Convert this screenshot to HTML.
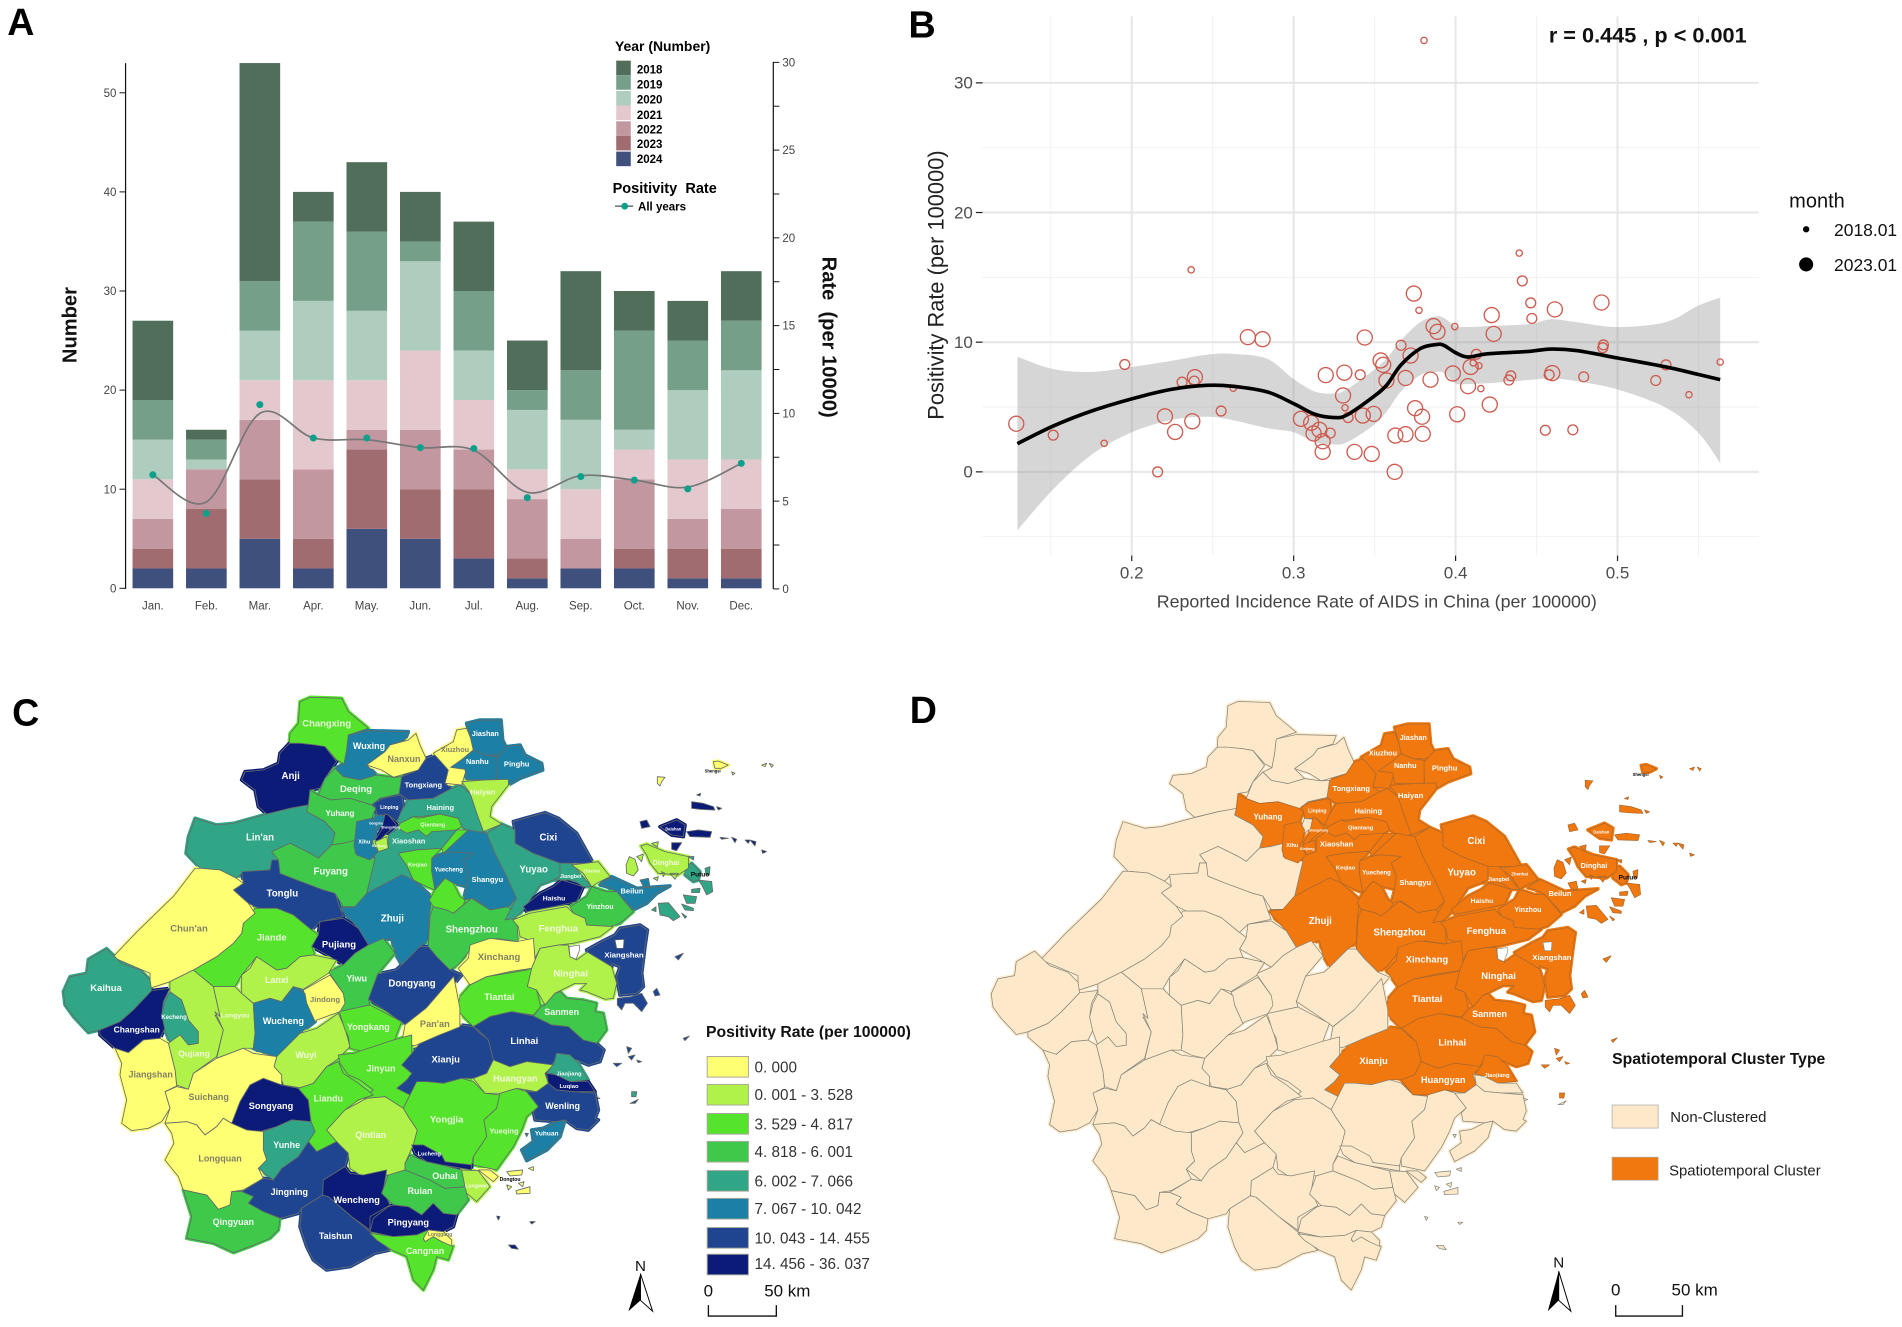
<!DOCTYPE html>
<html lang="en">
<head>
<meta charset="utf-8">
<title>Positivity rate figure</title>
<style>
html,body{margin:0;padding:0;background:#fff;width:1902px;height:1327px;overflow:hidden}
svg{display:block}
text{font-family:"Liberation Sans",sans-serif}
</style>
</head>
<body>
<svg id="figure" xmlns="http://www.w3.org/2000/svg" width="1902" height="1327" viewBox="0 0 1568 1094">
  <defs>
    <clipPath id="legendTitleClip"><rect x="570" y="835" width="200" height="22"/></clipPath>
  </defs>
  <rect x="0" y="0" width="1568" height="1094" fill="#fff"/>

  <text x="6" y="29" font-size="31" font-weight="bold">A</text>
  <text x="749" y="31" font-size="31" font-weight="bold">B</text>
  <text x="10" y="598" font-size="31" font-weight="bold">C</text>
  <text x="750" y="596" font-size="31" font-weight="bold">D</text>

  <g id="panelA"></g>
  <text transform="translate(63,268) rotate(-90)" text-anchor="middle" font-size="16.6" font-weight="bold" fill="#111">Number</text>
  <text transform="translate(678,278) rotate(90)" text-anchor="middle" font-size="16.6" font-weight="bold" fill="#111" xml:space="preserve">Rate  (per 10000)</text>
  <g>
    <text x="507" y="42" font-size="11.5" font-weight="bold">Year (Number)</text>
    <rect x="508" y="50" width="12" height="12" fill="#506e5a"/>
    <rect x="508" y="62" width="12" height="12" fill="#759f88"/>
    <rect x="508" y="75" width="12" height="12" fill="#aecdbe"/>
    <rect x="508" y="87" width="12" height="12" fill="#e3c9ce"/>
    <rect x="508" y="100" width="12" height="12" fill="#c297a0"/>
    <rect x="508" y="112" width="12" height="12" fill="#a06c70"/>
    <rect x="508" y="125" width="12" height="12" fill="#40507d"/>
    <text x="525" y="60.5" font-size="9.5" font-weight="bold">2018</text>
    <text x="525" y="73" font-size="9.5" font-weight="bold">2019</text>
    <text x="525" y="85.5" font-size="9.5" font-weight="bold">2020</text>
    <text x="525" y="98" font-size="9.5" font-weight="bold">2021</text>
    <text x="525" y="110" font-size="9.5" font-weight="bold">2022</text>
    <text x="525" y="122" font-size="9.5" font-weight="bold">2023</text>
    <text x="525" y="134.5" font-size="9.5" font-weight="bold">2024</text>
    <text x="505" y="159" font-size="12" font-weight="bold" xml:space="preserve">Positivity  Rate</text>
    <line x1="507" y1="170" x2="522" y2="170" stroke="#777" stroke-width="1.3"/>
    <circle cx="515" cy="170" r="2.8" fill="#0fa08c"/>
    <text x="526" y="173.5" font-size="9.5" font-weight="bold">All years</text>
  </g>

  <g id="panelB"></g>
  <text x="1440" y="35" text-anchor="end" font-size="17.9" font-weight="bold" fill="#111">r = 0.445 , p &lt; 0.001</text>
  <text transform="translate(778,235) rotate(-90)" text-anchor="middle" font-size="18" fill="#222">Positivity Rate (per 100000)</text>
  <text x="1135" y="501" text-anchor="middle" font-size="14.7" fill="#444">Reported Incidence Rate of AIDS in China (per 100000)</text>
  <g>
    <text x="1475" y="171" font-size="16.5" fill="#111">month</text>
    <circle cx="1489" cy="189" r="2.6" fill="#000"/>
    <circle cx="1489" cy="218" r="5.8" fill="#000"/>
    <text x="1512" y="194.5" font-size="14.4" fill="#111">2018.01</text>
    <text x="1512" y="223.5" font-size="14.4" fill="#111">2023.01</text>
  </g>

  <g id="mapC"></g>
  <g>
    <text x="582" y="855" font-size="13" font-weight="bold" fill="#111" clip-path="url(#legendTitleClip)">Positivity Rate (per 100000)</text>
    <rect x="583" y="871" width="34" height="17" fill="#ffff73" stroke="#a8a89a" stroke-width=".8"/>
    <rect x="583" y="894" width="34" height="17" fill="#b0f24a" stroke="#a8a89a" stroke-width=".8"/>
    <rect x="583" y="918" width="34" height="17" fill="#55e32b" stroke="#a8a89a" stroke-width=".8"/>
    <rect x="583" y="941" width="34" height="17" fill="#3fc94a" stroke="#a8a89a" stroke-width=".8"/>
    <rect x="583" y="965" width="34" height="17" fill="#31a687" stroke="#a8a89a" stroke-width=".8"/>
    <rect x="583" y="988" width="34" height="17" fill="#1c7fa6" stroke="#a8a89a" stroke-width=".8"/>
    <rect x="583" y="1012" width="34" height="17" fill="#1f4490" stroke="#a8a89a" stroke-width=".8"/>
    <rect x="583" y="1034" width="34" height="17" fill="#0c1a78" stroke="#a8a89a" stroke-width=".8"/>
    <text x="622" y="884" font-size="12.6" fill="#333">0. 000</text>
    <text x="622" y="907" font-size="12.6" fill="#333">0. 001 - 3. 528</text>
    <text x="622" y="931" font-size="12.6" fill="#333">3. 529 - 4. 817</text>
    <text x="622" y="954" font-size="12.6" fill="#333">4. 818 - 6. 001</text>
    <text x="622" y="978" font-size="12.6" fill="#333">6. 002 - 7. 066</text>
    <text x="622" y="1001" font-size="12.6" fill="#333">7. 067 - 10. 042</text>
    <text x="622" y="1025" font-size="12.6" fill="#333">10. 043 - 14. 455</text>
    <text x="622" y="1046" font-size="12.6" fill="#333">14. 456 - 36. 037</text>
  </g>
  <g>
    <text x="528" y="1048" text-anchor="middle" font-size="12.5" fill="#111">N</text>
    <polygon points="528,1050 518,1081 528,1072" fill="#000"/>
    <polygon points="528,1050 538,1081 528,1072" fill="#fff" stroke="#000" stroke-width=".8"/>
  </g>
  <g>
    <text x="584" y="1069" text-anchor="middle" font-size="14" fill="#111">0</text>
    <text x="630" y="1069" font-size="14" fill="#111">50 km</text>
    <polyline points="584,1076 584,1085 640,1085 640,1076" fill="none" stroke="#111" stroke-width="1.1"/>
  </g>

  <g id="mapD"></g>
  <g>
    <text x="1329" y="877" font-size="13" font-weight="bold" fill="#111">Spatiotemporal Cluster Type</text>
    <rect x="1329" y="911" width="38" height="19" fill="#fde9c9" stroke="#aaa" stroke-width=".6"/>
    <rect x="1329" y="954" width="38" height="19" fill="#f0780f" stroke="#aaa" stroke-width=".6"/>
    <text x="1377" y="925" font-size="12.3" fill="#222">Non-Clustered</text>
    <text x="1376" y="969" font-size="12.3" fill="#222">Spatiotemporal Cluster</text>
  </g>
  <g>
    <text x="1285" y="1045" text-anchor="middle" font-size="12.5" fill="#111">N</text>
    <polygon points="1285,1048 1276,1081 1285,1072" fill="#000"/>
    <polygon points="1285,1048 1295,1081 1285,1072" fill="#fff" stroke="#000" stroke-width=".8"/>
  </g>
  <g>
    <text x="1332" y="1068" text-anchor="middle" font-size="14" fill="#111">0</text>
    <text x="1378" y="1068" font-size="14" fill="#111">50 km</text>
    <polyline points="1332,1076 1332,1085 1387,1085 1387,1076" fill="none" stroke="#111" stroke-width="1.1"/>
  </g>
</svg>

<script>
/* ---------- Panel A data ---------- */
const months = ['Jan.','Feb.','Mar.','Apr.','May.','Jun.','Jul.','Aug.','Sep.','Oct.','Nov.','Dec.'];
const count2024 = [2,2,5,2,6,5,3,1,2,2,1,1];
const count2023 = [2,6,6,3,8,5,7,2,0,2,3,3];
const count2022 = [3,4,6,7,2,6,4,6,3,7,3,4];
const count2021 = [4,0,4,9,5,8,5,3,5,3,6,5];
const count2020 = [4,1,5,8,7,9,5,6,7,2,7,9];
const count2019 = [4,2,5,8,8,2,6,2,5,10,5,5];
const count2018 = [8,1,22,3,7,5,7,5,10,4,4,5];
const positivityPoints = [6.5,4.3,10.5,8.6,8.6,8.05,8.0,5.2,6.4,6.2,5.7,7.15];
const positivitySmooth = [6.5,4.95,10.0,8.6,8.5,8.05,7.9,5.5,6.45,6.2,5.8,7.15];
const numberTicks = [0,10,20,30,40,50];
const rateTicks = [0,2.5,5,7.5,10,12.5,15,17.5,20,22.5,25,27.5,30];

/* ---------- Panel B data ---------- */
const incidence = [.1287,.1515,.183,.1957,.216,.2205,.2268,.2311,.2367,.2374,.239,.2386,.2552,.2627,.2717,.2808,.3045,.3108,.3123,.3159,.3226,.3179,.3179,.3198,.3313,.3305,.3317,.3336,.3376,.3411,.3427,.3439,.3482,.3494,.3537,.3553,.3573,.3624,.3628,.3663,.3691,.3691,.3722,.3742,.375,.3774,.3793,.3797,.3805,.3845,.3864,.3888,.3983,.3995,.401,.4077,.4093,.4109,.4128,.4144,.4156,.4211,.4223,.4235,.4329,.4341,.4393,.4412,.4464,.4471,.4554,.4578,.4597,.4613,.4724,.4791,.4901,.4913,.4909,.5236,.5299,.5441,.5634];
const positivity = [3.71,2.83,2.2,8.28,0,4.28,3.08,6.92,15.58,3.9,7.3,7.0,4.69,6.45,10.39,10.23,4.09,3.78,2.96,3.24,2.99,2.36,1.54,7.46,7.65,5.89,4.94,4.19,1.54,7.49,4.34,10.36,1.38,4.47,8.59,8.25,7.05,0,2.8,9.76,2.9,7.24,8.97,13.75,4.91,12.46,4.25,2.93,33.27,7.11,11.24,10.8,7.59,11.2,4.44,6.61,8.09,8.4,9.07,8.18,6.42,5.19,12.09,10.64,7.08,7.4,16.87,14.73,13.03,11.83,3.21,7.49,7.62,12.53,3.24,7.33,13.06,9.79,9.57,7.05,8.25,5.95,8.47];
const monthValue = [2023.01,2020.06,2018.01,2020.06,2020.06,2023.01,2023.01,2020.06,2018.01,2023.01,2023.01,2020.06,2020.06,2018.01,2023.01,2023.01,2023.01,2023.01,2023.01,2023.01,2020.06,2023.01,2023.01,2023.01,2023.01,2023.01,2018.01,2020.06,2023.01,2020.06,2023.01,2023.01,2023.01,2023.01,2023.01,2023.01,2023.01,2023.01,2023.01,2020.06,2023.01,2023.01,2023.01,2023.01,2023.01,2018.01,2023.01,2023.01,2018.01,2023.01,2023.01,2023.01,2023.01,2018.01,2023.01,2023.01,2023.01,2018.01,2020.06,2018.01,2018.01,2023.01,2023.01,2023.01,2020.06,2020.06,2018.01,2020.06,2020.06,2020.06,2020.06,2020.06,2023.01,2023.01,2020.06,2020.06,2023.01,2020.06,2020.06,2020.06,2020.06,2018.01,2018.01];
const smoothX = [.1294,.1515,.1752,.2,.2244,.2461,.2619,.2836,.3,.3131,.325,.3328,.3486,.3573,.3663,.3782,.388,.3927,.4,.4077,.4196,.4452,.459,.4747,.5,.5299,.5496,.5634];
const smoothFit = [2.17,3.53,4.69,5.63,6.36,6.67,6.61,6.17,5.26,4.44,4.19,4.38,5.73,6.67,8.25,9.51,9.82,9.76,9.19,8.85,9.1,9.29,9.47,9.35,8.78,8.09,7.52,7.11];
const smoothUpper = [8.88,7.93,7.71,8.09,8.56,9.03,9.1,8.72,7.15,6.2,6.04,6.36,7.77,8.72,10.14,11.55,11.99,11.87,11.24,11.17,11.24,11.39,11.77,11.55,11.17,11.55,12.81,13.44];
const smoothLower = [-4.5,-1.35,1.32,3.05,4.0,4.25,4.0,3.37,3.05,2.27,2.11,2.27,3.53,4.63,6.2,7.46,7.71,7.62,6.83,6.77,6.83,7.08,7.21,6.99,6.36,4.94,3.05,.69];
const xMajorTicks = [.2,.3,.4,.5];
const xMinorTicks = [.15,.25,.35,.45,.55];
const yMajorTicks = [0,10,20,30];
const yMinorTicks = [-5,5,15,25];

/* ---------- Map data ---------- */
const countyNames = ["Changxing","Anji","Wuxing","Nanxun","Tongxiang","Xiuzhou","Jiashan","Nanhu","Pinghu","Haiyan","Deqing","Yuhang","Lin'an","Haining","Qiantang","Xiaoshan","Fuyang","Keqiao","Yuecheng","Shangyu","Zhuji","Shaoxing-East","Shengzhou","Tonglu","Yuyao","Cixi","Jiangbei","Zhenhai","Beilun","Haishu","Yinzhou","Fenghua","Xinchang","Ninghai","Xiangshan","Tiantai","Sanmen","Linhai","Xianju","Dongyang","Pan'an","Pujiang","Yiwu","Jiande","Chun'an","Kaihua","Changshan","Kecheng","Qujiang","Longyou","Lanxi","Jindong","Wucheng","Wuyi","Yongkang","Jinyun","Suichang","Jiangshan","Songyang","Liandu","Qintian","Yongjia","Yueqing","Huangyan","Jiaojiang","Luqiao","Wenling","Yuhuan","Yunhe","Longquan","Jingning","Qingyuan","Taishun","Wencheng","Ruian","Ouhai","Lucheng","Pingyang","Longwan","Dongtou","Cangnan","Longgang","Putuo","Dinghai","Daishan","Shengsi","Linping","Gongshu","Shangcheng","Xihu","Binjiang"];
const countyRates = [4.2,20,8.5,0,12,0,8.5,8.5,8.5,2.5,5.4,5.4,6.5,6.5,4.2,6.5,5.4,4.2,8.5,8.5,8.5,4.2,5.4,12,6.5,12,6.5,2.5,8.5,20,5.4,2.5,0,2.5,12,4.2,5.4,12,12,12,0,20,5.4,4.2,0,6.5,20,6.5,2.5,2.5,2.5,0,8.5,2.5,4.2,4.2,0,0,20,4.2,2.5,4.2,4.2,2.5,6.5,20,12,8.5,6.5,0,12,5.4,12,20,5.4,5.4,20,20,2.5,0,4.2,0,6.5,2.5,20,0,12,8.5,20,8.5,2.5];
const rateBreaks = [0,3.528,4.817,6.001,7.066,10.042,14.455,36.037];
const clusterCounties = ["Tongxiang","Xiuzhou","Jiashan","Nanhu","Pinghu","Haiyan","Yuhang","Haining","Qiantang","Xiaoshan","Keqiao","Yuecheng","Shangyu","Zhuji","Shaoxing-East","Shengzhou","Yuyao","Cixi","Jiangbei","Zhenhai","Beilun","Haishu","Yinzhou","Fenghua","Xinchang","Ninghai","Xiangshan","Tiantai","Sanmen","Linhai","Xianju","Huangyan","Jiaojiang","Putuo","Dinghai","Daishan","Shengsi","Linping","Shangcheng","Xihu","Binjiang"];

/* ---------- Map geometry: tracing frames and traced outlines ---------- */
const traceFrames = {N:[200,690,3,3],E:[420,760,3,3],W:[50,960,3,3],S:[330,1040,3,3],O:[0,670,1.642,2.367]};
const waterGeometry = ["585,540 612,538 610,565 590,565","447,560 478,555 478,572 468,598 450,590"];
const countyGeometry = {
"Changxing":["N",380,100,7.8,"300,35 330,22 425,25 445,65 505,115 445,135 440,180 432,222 410,210 375,170 345,165 300,160 268,160 270,130 295,100"],
"Anji":["N",272,257,8,"268,160 300,160 345,165 375,170 410,215 375,265 360,295 330,300 325,345 270,355 200,372 175,350 165,300 125,270 135,245 190,240 235,220 240,190"],
"Wuxing":["N",507,168,7.4,"445,135 505,122 625,125 615,150 570,165 555,185 500,225 530,255 480,270 430,260 405,235 432,222 440,180"],
"Nanxun":["N",612,206,7.4,"570,165 625,150 648,130 660,165 678,205 655,240 580,262 545,240 500,225 555,185"],
"Tongxiang":["N",670,285,6.2,"678,205 705,195 745,240 735,280 755,295 700,325 625,330 595,310 605,260 655,240"],
"Xiuzhou":["N",765,178,6,"770,120 800,115 812,145 820,180 790,205 800,235 785,285 735,280 745,240 700,190 760,155"],
"Jiashan":["N",856,130,6,"800,100 840,90 903,90 908,150 920,175 895,195 855,195 820,180 812,145"],
"Nanhu":["N",832,215,6,"790,205 820,180 855,195 890,200 888,270 855,270 800,270 795,238 752,232"],
"Pinghu":["N",950,222,6.2,"920,170 960,165 975,195 1025,220 1028,240 960,265 925,285 890,270 888,205"],
"Haiyan":["N",848,305,6.4,"785,275 855,270 925,268 925,285 875,350 870,380 905,402 850,425 830,370 810,310"],
"Deqing":["N",468,296,7.8,"405,235 430,260 480,270 530,255 580,262 605,260 597,312 540,325 515,345 450,325 395,330 355,315 375,265"],
"Yuhang":["N",420,370,6.6,"330,300 355,315 395,330 450,325 515,345 527,355 515,385 470,395 470,450 430,460 395,465 405,430 375,395 320,365 325,345"],
"Lin'an":["N",180,442,8,"-15,385 50,405 100,400 190,375 270,355 325,345 320,365 375,395 405,430 395,465 355,505 330,490 270,460 215,485 235,510 215,510 210,540 130,545 110,565 60,540 0,535 -42,490 -35,440"],
"Haining":["N",721,352,6.2,"625,330 700,325 755,295 780,285 810,310 830,370 850,425 815,430 785,410 775,385 720,372 660,380 640,380 600,400 590,395 600,370"],
"Qiantang":["N",698,403,4.8,"600,400 640,380 655,385 720,372 775,385 785,410 760,425 695,425 680,440 655,420 620,430 595,415|770,420 805,420 730,490 725,475"],
"Xiaoshan":["N",626,452,6.2,"565,435 595,415 620,430 655,420 680,440 695,425 770,420 725,475 650,480 595,490 622,530 640,570 605,555 500,610 525,505 520,480 535,485 565,475"],
"Fuyang":["N",392,544,8,"270,460 330,490 355,505 395,465 430,460 470,450 465,490 525,505 500,610 465,650 430,650 405,610 370,600 290,570 240,550 235,510 215,485"],
"Keqiao":["N",653,524,4.8,"595,490 650,480 725,475 695,505 695,545 705,600 680,590 640,570 622,530"],
"Yuecheng":["N",746,538,5,"695,505 730,490 755,485 820,490 790,510 805,550 800,590 760,580 735,565 705,600 695,545"],
"Shangyu":["N",862,568,6.2,"805,420 860,430 885,490 920,560 950,625 925,650 870,660 820,625 790,630 800,590 805,550 790,510 820,490 755,485 730,490"],
"Zhuji":["N",577,684,8,"500,610 605,555 640,570 695,620 688,680 685,750 660,770 605,825 585,790 575,745 505,765 475,715 420,655 465,650"],
"Shaoxing-East":["N",0,0,0,"705,600 735,565 760,580 780,620 795,630 790,645 760,670 740,660 700,650 688,630"],
"Shengzhou":["N",815,718,8,"690,680 700,650 740,660 760,670 790,645 815,625 870,660 925,650 950,690 955,755 890,745 815,775 775,825 750,840 710,800 685,770"],
"Tonglu":["N",247,610,8,"125,545 210,540 215,510 235,510 240,550 290,570 370,600 405,610 420,655 430,680 360,695 335,720 280,675 230,655 175,655 145,640 100,600 130,580"],
"Yuyao":["N",1001,538,8,"860,430 905,402 945,420 945,460 1000,490 1080,520 1080,560 1060,570 1020,585 970,660 945,685 915,690 950,625 920,560 885,490"],
"Cixi":["N",1045,442,8,"940,395 975,385 1035,368 1075,385 1130,430 1180,520 1120,520 1080,520 1000,490 945,460 945,420"],
"Jiangbei":["N",1112,558,4.4,"1080,520 1115,520 1175,590 1150,590 1120,570 1060,570 1080,560"],
"Zhenhai":["N",1175,543,3.6,"1115,525 1195,515 1230,560 1190,580 1175,590 1150,550"],
"Beilun":["E",636,392,6.2,"545,370 575,350 650,385 750,378 710,400 680,430 640,450 590,395 560,380 540,375|660,360 685,355 690,380 670,380"],
"Haishu":["N",1062,624,5.6,"1020,610 1060,590 1085,570 1150,590 1130,635 1060,650 980,665 970,650"],
"Yinzhou":["E",540,440,5.8,"450,440 500,410 515,380 560,395 590,395 640,455 600,490 570,500 500,495 495,475 460,460"],
"Fenghua":["E",415,505,7.8,"278,480 330,460 440,440 460,460 495,475 500,495 580,500 540,530 460,550 415,555 360,565 345,595 340,545 300,530 295,500"],
"Xinchang":["E",237,590,7.8,"150,555 210,535 290,545 340,535 345,600 335,625 270,635 200,650 150,675 115,625 145,595"],
"Ninghai":["E",452,640,7.8,"360,565 415,555 445,555 450,590 470,600 505,575 575,620 590,670 580,715 555,718 500,695 480,690 500,670 465,670 405,700 375,735 350,690 322,680 335,625 345,600"],
"Xiangshan":["E",612,585,6.4,"500,570 545,545 585,525 600,505 660,495 682,510 675,560 665,640 670,680 650,700 600,705 590,650 600,620 575,610 575,620 505,578|592,715 635,710 665,700 682,730 665,755 640,730 615,730 605,750 592,735|700,695 710,685 720,705 705,708|765,590 790,580 775,600"],
"Tiantai":["E",238,710,7.8,"150,675 200,650 320,630 335,625 322,680 350,690 362,740 340,765 275,755 210,770 160,800 110,750 120,710"],
"Sanmen":["E",425,755,7.4,"375,735 405,700 420,695 440,715 490,720 530,730 525,755 550,760 560,810 530,850 490,840 445,800 395,795 340,768 362,740"],
"Linhai":["E",313,842,7.8,"160,800 210,770 275,755 340,768 395,795 445,800 490,840 530,850 552,870 540,905 505,915 470,900 420,880 395,915 320,905 270,920 220,900 205,840 180,815|620,860 635,865 625,880|625,890 645,885 635,900|580,910 605,910 590,920|650,900 665,905 655,908|790,835 808,828 795,842"],
"Xianju":["S",347,57,7.8,"270,10 310,-20 355,-50 430,-40 450,-20 475,0 490,60 470,100 430,115 395,115 340,130 290,125 260,130 240,165 200,145 230,120 245,100 215,75 245,40"],
"Dongyang":["N",636,880,8,"605,825 660,770 685,770 710,800 750,840 785,855 761,884 720,930 679,954 615,1004 560,965 505,928 533,852 588,840"],
"Pan'an":["O",714,838,7.6,"745,725 755,800 755,845 720,865 680,890 660,880 665,840 700,800"],
"Pujiang":["N",417,762,7.8,"360,695 430,685 475,715 505,765 465,790 430,825 390,800 335,770 355,735"],
"Yiwu":["N",470,865,7.4,"385,845 430,825 465,790 505,765 550,745 585,790 533,852 505,928 510,945 420,965 430,910"],
"Jiande":["N",215,742,7.8,"130,700 165,655 230,655 280,675 335,720 355,735 335,770 345,795 300,800 260,835 230,840 170,800 125,855 105,890 40,890 -20,840 50,800 100,760 125,730"],
"Chun'an":["N",-33,714,7.8,"-15,535 0,535 60,540 110,565 130,580 100,600 145,640 165,670 130,700 125,730 100,760 50,800 -20,840 -90,875 -150,895 -150,850 -262,802 -189,725 -79,618"],
"Kaihua":["W",168,83,7.8,"170,-34 215,10 270,30 300,60 305,92 250,150 210,185 150,210 115,218 70,170 45,135 40,95 60,50 110,40 115,-2"],
"Changshan":["W",260,208,7,"305,92 360,85 340,125 335,165 345,205 330,235 280,240 235,278 195,265 150,225 150,210 210,185 250,150"],
"Kecheng":["W",372,170,5,"360,95 395,120 415,180 445,215 445,250 415,255 390,225 360,250 345,210 335,165 345,125"],
"Qujiang":["W",432,280,7,"360,65 430,30 490,80 510,170 495,165 520,210 500,290 430,340 415,388 380,375 375,330 355,250 390,225 415,255 445,250 445,215 415,180 395,120 360,95"],
"Longyou":["W",555,165,5.6,"490,80 555,80 575,100 610,130 615,220 610,265 580,265 500,295 520,210 495,155 510,170"],
"Lanxi":["W",680,60,7.4,"575,45 575,100 610,130 660,115 695,125 730,80 760,88 835,40 860,0 790,-15 750,-10 710,25 680,30 620,-10 600,25"],
"Jindong":["W",825,118,6.4,"760,90 840,45 880,100 885,130 870,155 800,180 795,185 770,130"],
"Wucheng":["W",700,182,7.6,"610,130 660,115 695,125 730,80 765,100 770,130 795,185 750,220 680,290 640,280 610,265 615,220"],
"Wuyi":["W",768,285,7.4,"800,205 865,160 885,205 900,260 860,300 830,320 790,370 760,385 700,375 690,345 672,320 680,290 750,220"],
"Yongkang":["W",955,200,7.4,"868,155 960,135 1055,185 1045,210 1025,265 960,280 900,265 895,230 885,210"],
"Jinyun":["S",153,85,7.4,"25,45 70,40 115,25 190,0 245,-15 245,40 215,75 245,100 230,120 200,145 240,165 220,205 165,170 130,175 100,175 130,150 90,120 55,105 30,70"],
"Suichang":["W",476,410,7.4,"430,340 500,295 580,265 610,280 680,290 672,320 695,345 695,375 640,355 600,375 570,425 545,490 520,475 500,500 465,525 440,495 410,485 345,490 360,445 345,395 380,380 415,388"],
"Jiangshan":["W",302,343,7.4,"195,265 235,278 280,240 330,235 355,250 375,330 380,378 345,395 360,445 335,485 295,505 245,512 215,490 230,420 210,345 215,310"],
"Songyang":["W",663,438,7.6,"600,375 640,355 695,375 745,385 775,420 783,485 725,480 680,500 630,515 590,510 545,490 570,425"],
"Liandu":["W",835,415,7.4,"745,385 790,370 830,320 865,305 880,340 925,370 970,405 925,420 885,450 830,510 860,545 800,575 775,545 795,515 783,485 775,420"],
"Qintian":["S",122,285,7.4,"-10,270 45,210 110,175 165,170 220,205 235,230 262,270 250,315 225,370 225,395 180,405 90,405 60,385 55,345 20,305"],
"Yongjia":["S",350,238,7.8,"220,205 260,125 290,125 340,130 395,115 430,125 465,160 510,165 500,205 462,240 470,290 430,350 425,375 350,370 335,350 250,315 262,270 235,230"],
"Yueqing":["S",522,272,6.2,"510,160 560,145 590,155 625,200 590,230 575,270 550,320 500,390 430,375 430,350 470,290 462,240 500,205"],
"Huangyan":["S",556,115,7.6,"430,115 470,100 490,60 540,80 590,65 670,75 645,100 655,130 620,155 560,145 510,160 465,160"],
"Jiaojiang":["S",717,100,4.8,"672,70 680,40 720,45 745,70 775,120 720,125 665,100 650,100|905,155 920,155 918,170 905,170"],
"Luqiao":["S",717,138,4.8,"650,100 680,105 720,125 775,125 795,155 730,155 680,150 655,130|785,165 810,175 795,178"],
"Wenling":["S",698,197,7.4,"590,155 620,155 655,130 680,150 730,155 795,160 805,210 795,235 805,240 775,270 740,265 705,240 680,245 615,240 610,215 625,200|900,190 925,178 915,190"],
"Yuhuan":["S",650,280,5.4,"680,245 705,240 690,290 650,330 590,362 575,330 610,305 605,270 640,265|585,280 595,280 590,290"],
"Yunhe":["W",710,555,7.4,"680,500 725,480 783,485 795,515 775,545 745,590 695,625 670,660 625,625 650,600 640,570 640,515"],
"Longquan":["W",510,595,7.4,"345,490 410,485 440,495 465,525 500,500 520,475 545,490 590,510 640,515 640,570 650,600 625,625 640,655 580,690 545,695 540,735 505,748 470,705 400,690 385,650 345,600 372,550 365,520"],
"Jingning":["W",718,695,7.4,"775,545 800,575 860,545 895,580 885,620 820,660 818,705 755,745 745,760 690,775 640,755 595,730 610,710 575,695 640,655 670,660 695,625 745,590"],
"Qingyuan":["W",550,785,7.4,"400,690 470,705 505,748 540,735 545,695 575,695 610,710 595,730 640,755 690,775 685,810 660,835 600,860 550,878 490,850 410,835 425,770"],
"Taishun":["W",857,827,7.4,"755,745 818,705 835,710 905,770 960,815 1020,870 975,880 900,920 830,930 790,900 770,860 750,800"],
"Wencheng":["W",920,720,7.6,"820,660 885,620 900,640 940,645 1010,630 1000,690 1020,735 960,770 960,810 905,770 835,710 818,705"],
"Ruian":["S",270,453,7.4,"175,405 225,390 300,420 345,445 405,440 415,480 380,525 340,520 310,490 275,525 235,500 190,495 155,460"],
"Ouhai":["S",345,407,7.4,"225,370 240,345 290,365 335,375 395,390 405,440 345,445 300,420 225,390"],
"Lucheng":["S",298,340,4.6,"245,315 280,315 335,345 345,365 425,375 425,390 335,375 290,365 255,340"],
"Pingyang":["S",235,547,7.6,"190,495 235,500 275,525 310,490 340,520 380,525 370,560 340,575 295,570 260,585 190,590 120,575 130,535 175,500|500,528 510,530 505,540|600,545 615,545 605,552|535,615 555,615 565,628 545,625"],
"Longwan":["S",440,437,4.4,"395,390 445,392 480,440 440,485 410,460 405,440"],
"Dongtou":["S",540,418,4.2,"445,390 480,390 505,410 490,425|530,395 578,390 575,405 540,408|595,385 610,380 610,392|565,430 582,425 578,440|530,435 545,440 535,450|558,452 600,440 600,460 560,462"],
"Cangnan":["S",285,632,7.4,"120,580 190,590 260,585 295,570 280,600 310,590 335,605 370,618 355,660 320,650 310,690 280,750 250,720 230,650 185,630 140,600"],
"Longgang":["S",330,582,4.2,"295,570 340,575 365,600 365,618 335,605 310,590 285,605 280,595"],
"Putuo":["E",840,343,5.4,"795,315 815,310 840,335 835,360 820,365 795,345|835,360 875,365 878,395 860,405 845,375|855,325 870,320 868,345 858,345|815,388 840,385 838,398 815,398|790,405 830,410 825,430 800,430|785,432 820,445 820,452 795,450|715,430 745,428 780,470 760,482 745,470 720,465|695,450 708,440 708,455|785,460 800,470 795,475|805,290 822,290 820,300"],
"Dinghai":["E",738,308,6,"662,258 680,252 735,275 805,290 805,325 775,345 715,340 690,310 680,285|628,290 645,298 655,330 640,348 620,340 618,315|650,290 670,282 665,305|695,250 715,245 712,262|700,355 715,350 712,362|725,335 735,340 730,350|750,340 775,340 765,358"],
"Daishan":["E",760,207,3.4,"720,200 770,180 795,195 790,230 755,225|660,185 680,180 690,200 665,205|800,215 835,210 875,215 870,232 810,230|815,125 850,130 880,140 885,150 840,148 815,145|755,248 785,248 770,272 755,268|830,105 842,100 840,108|890,140 905,145 895,150|900,232 925,235 905,238|935,232 950,238 945,248|975,240 990,240 985,250|990,240 1008,245 1005,258|1025,270 1040,275 1028,280"],
"Shengsi":["E",878,33,3.4,"880,5 895,3 925,15 905,25 885,25|935,35 945,40 938,45|712,50 735,52 725,65 720,78 712,70|1025,15 1040,10 1035,20|1048,10 1060,15 1055,22"],
"Linping":["N",568,352,4.2,"520,340 550,325 605,315 610,350 595,385 590,395 565,375 530,375 527,355"],
"Gongshu":["N",528,400,2.6,"530,375 560,378 555,400 530,420 520,400"],
"Shangcheng":["N",572,412,2.6,"555,372 565,375 590,405 560,430 535,455 525,450 545,420"],
"Xihu":["N",493,455,4.6,"470,395 515,385 530,410 525,440 515,455 535,485 510,510 470,495 462,470"],
"Binjiang":["N",538,467,3,"525,455 560,440 565,475 535,485"]
};

const classColors = ['#ffff73','#b0f24a','#55e32b','#3fc94a','#31a687','#1c7fa6','#1f4490','#0c1a78'];
const labelColors = ['#807f66','#f4f9dd','#e9fbdc','#f2fbf2','#f2fbf7','#ffffff','#ffffff','#ffffff'];
const darkLabelCounties = ['Putuo','Shengsi','Dongtou'];

const NS = 'http://www.w3.org/2000/svg';
function mk(tag, parent, attrs, txt){
  const el = document.createElementNS(NS, tag);
  for(const k in attrs) el.setAttribute(k, attrs[k]);
  if(txt !== undefined) el.textContent = txt;
  parent.appendChild(el);
  return el;
}
function smoothPath(pts, move){
  let d = (move ? 'M' : 'L') + pts[0][0].toFixed(2) + ' ' + pts[0][1].toFixed(2);
  for(let i = 0; i < pts.length - 1; i++){
    const p0 = pts[Math.max(i-1,0)], p1 = pts[i], p2 = pts[i+1], p3 = pts[Math.min(i+2,pts.length-1)];
    const c1x = p1[0]+(p2[0]-p0[0])/6, c1y = p1[1]+(p2[1]-p0[1])/6;
    const c2x = p2[0]-(p3[0]-p1[0])/6, c2y = p2[1]-(p3[1]-p1[1])/6;
    d += 'C'+c1x.toFixed(2)+' '+c1y.toFixed(2)+' '+c2x.toFixed(2)+' '+c2y.toFixed(2)+' '+p2[0].toFixed(2)+' '+p2[1].toFixed(2);
  }
  return d;
}

/* ---------- Panel A ---------- */
(function(){
  const g = document.getElementById('panelA');
  const xA = i => 126 + i*44.1;
  const yA = v => 485 - v*8.17;
  const yR = v => 485.5 - v*14.47;
  const barW = 33.5;
  const stack = [
    {year:'2024',vals:count2024,fill:'#40507d'},
    {year:'2023',vals:count2023,fill:'#a06c70'},
    {year:'2022',vals:count2022,fill:'#c297a0'},
    {year:'2021',vals:count2021,fill:'#e3c9ce'},
    {year:'2020',vals:count2020,fill:'#aecdbe'},
    {year:'2019',vals:count2019,fill:'#759f88'},
    {year:'2018',vals:count2018,fill:'#506e5a'}
  ];
  months.forEach((m,i)=>{
    let base = 0;
    stack.forEach(s=>{
      const v = s.vals[i];
      const bar = mk('rect', g, {x:xA(i)-barW/2, y:yA(base+v), width:barW, height:Math.max(0,yA(base)-yA(base+v)), fill:s.fill});
      
      
      base += v;
    });
    const lab = mk('text', g, {x:xA(i), y:502.5, 'text-anchor':'middle', 'font-size':9.5, fill:'#444'}, m);
    
    
  });
  const la = mk('line', g, {x1:103.5,y1:52,x2:103.5,y2:485.5,stroke:'#111','stroke-width':1});
  
  
  numberTicks.forEach(t=>{
    const tk = mk('line', g, {x1:98.5,x2:103.5,y1:yA(t),y2:yA(t),stroke:'#111','stroke-width':.8});
    
    
    const tl = mk('text', g, {x:96, y:yA(t)+3.4,'text-anchor':'end','font-size':9.5,fill:'#444'}, t);
    
    
  });
  const ra = mk('line', g, {x1:637.5,y1:51,x2:637.5,y2:485.5,stroke:'#111','stroke-width':1});
  
  
  rateTicks.forEach(t=>{
    const tk = mk('line', g, {x1:637.5,x2:642.5,y1:yR(t),y2:yR(t),stroke:'#111','stroke-width':.8});
    
    
    if(t % 5 === 0){
      const tl = mk('text', g, {x:645, y:yR(t)+3.4,'font-size':9.5,fill:'#444'}, t);
      
      
    }
  });
  const linePts = positivitySmooth.map((v,i)=>[xA(i),yR(v)]);
  const line = mk('path', g, {d:smoothPath(linePts,true),fill:'none',stroke:'#777','stroke-width':1.4});
  
  
  positivityPoints.forEach((v,i)=>{
    const c = mk('circle', g, {cx:xA(i),cy:yR(v),r:2.9,fill:'#0fa08c'});
    
    
  });
})();

/* ---------- Panel B ---------- */
(function(){
  const g = document.getElementById('panelB');
  const xB = v => 933 + (v-.2)*1335;
  const yB = v => 389 - v*10.69;
  const L=810, R=1450, T=13.5, B=458;
  yMinorTicks.forEach(t=>{
    const l = mk('line', g, {x1:L,x2:R,y1:yB(t),y2:yB(t),stroke:'#f1f1f1','stroke-width':.8});
    
    
  });
  xMinorTicks.forEach(t=>{
    const l = mk('line', g, {x1:xB(t),x2:xB(t),y1:T,y2:B,stroke:'#f1f1f1','stroke-width':.8});
    
    
  });
  yMajorTicks.forEach(t=>{
    const l = mk('line', g, {x1:L,x2:R,y1:yB(t),y2:yB(t),stroke:'#e6e6e6','stroke-width':1.7});
    
    
    const tk = mk('line', g, {x1:804.5,x2:810,y1:yB(t),y2:yB(t),stroke:'#222','stroke-width':1});
    
    
    const tl = mk('text', g, {x:802,y:yB(t)+4.8,'text-anchor':'end','font-size':14,fill:'#4d4d4d'}, t);
    
    
  });
  xMajorTicks.forEach(t=>{
    const l = mk('line', g, {x1:xB(t),x2:xB(t),y1:T,y2:B,stroke:'#e6e6e6','stroke-width':1.7});
    
    
    const tk = mk('line', g, {x1:xB(t),x2:xB(t),y1:B,y2:B+4.5,stroke:'#222','stroke-width':1});
    
    
    const tl = mk('text', g, {x:xB(t),y:477,'text-anchor':'middle','font-size':14,fill:'#4d4d4d'}, t.toFixed(1));
    
    
  });
  const up = smoothX.map((x,i)=>[xB(x),yB(smoothUpper[i])]);
  const lo = smoothX.map((x,i)=>[xB(x),yB(smoothLower[i])]).reverse();
  const rib = mk('path', g, {d:smoothPath(up,true)+smoothPath(lo,false)+'Z',fill:'#999','fill-opacity':.4});
  
  
  incidence.forEach((x,i)=>{
    const r = 2.6 + (monthValue[i]-2018.01)/5*3.6;
    const c = mk('circle', g, {cx:xB(x),cy:yB(positivity[i]),r:r,fill:'none',stroke:'#cd5c50','stroke-width':1.1});
    
    
  });
  const fit = mk('path', g, {d:smoothPath(smoothX.map((x,i)=>[xB(x),yB(smoothFit[i])]),true),fill:'none',stroke:'#000','stroke-width':3});
  
  
})();

/* ---------- Maps ---------- */
const SCALE = 1902/1568;
function frameX(key, v){ const f = traceFrames[key]; return (f[0] + v/f[2]) / SCALE; }
function frameY(key, v){ const f = traceFrames[key]; return (f[1] + v/f[3]) / SCALE; }
function ringsToPath(key, rings, shiftX, warpY){
  return rings.split('|').map(r=>'M'+r.split(' ').map(p=>{
    const a = p.split(',');
    return (frameX(key,+a[0])+shiftX).toFixed(1)+' '+warpY(frameY(key,+a[1])).toFixed(1);
  }).join('L')+'Z').join('');
}
function rateClass(v){
  for(let i = 0; i < rateBreaks.length; i++) if(v <= rateBreaks[i]) return i;
  return rateBreaks.length - 1;
}
(function(){
  const g = document.getElementById('mapC');
  const same = y => y;
  const labels = [];
  countyNames.forEach((n,i)=>{
    const geo = countyGeometry[n], k = rateClass(countyRates[i]);
    const u = mk('path', g, {d:ringsToPath(geo[0],geo[4].split('|')[0],0,same),fill:classColors[k],stroke:classColors[k],'stroke-width':3,'stroke-linejoin':'round'});
    
    
  });
  countyNames.forEach((n,i)=>{
    const geo = countyGeometry[n], k = rateClass(countyRates[i]);
    const p = mk('path', g, {d:ringsToPath(geo[0],geo[4],0,same),fill:classColors[k],stroke:'#636b68','stroke-width':.7,'stroke-linejoin':'round'});
    
    
    if(geo[3]) labels.push([n,geo,k]);
  });
  waterGeometry.forEach(w=>{
    const p = mk('path', g, {d:ringsToPath('E',w,0,same),fill:'#fff',stroke:'#636b68','stroke-width':.6});
    
    
  });
  labels.forEach(l=>{
    const geo = l[1];
    const t = mk('text', g, {x:frameX(geo[0],geo[1]),y:frameY(geo[0],geo[2])+geo[3]*.35,'text-anchor':'middle','font-size':geo[3],'font-weight':'bold',fill:darkLabelCounties.includes(l[0])?'#000':labelColors[l[2]]}, l[0]);
    
    
  });
})();
(function(){
  const g = document.getElementById('mapD');
  const warp = y => 1067.8 - (1067.8 - y)*.993;
  const labels = [];
  countyNames.forEach(n=>{
    const geo = countyGeometry[n], on = clusterCounties.includes(n);
    const fill = on ? '#f0780f' : '#fde9c9';
    const u = mk('path', g, {d:ringsToPath(geo[0],geo[4].split('|')[0],765,warp),fill:fill,stroke:fill,'stroke-width':3,'stroke-linejoin':'round'});
    
    
  });
  countyNames.forEach(n=>{
    const geo = countyGeometry[n], on = clusterCounties.includes(n);
    const p = mk('path', g, {d:ringsToPath(geo[0],geo[4],765,warp),fill:on?'#f0780f':'#fde9c9',stroke:on?'#a9682e':'#85857b','stroke-width':.6,'stroke-linejoin':'round'});
    
    
    if(on && geo[3]) labels.push([n,geo]);
  });
  waterGeometry.forEach(w=>{
    const p = mk('path', g, {d:ringsToPath('E',w,765,warp),fill:'#fff',stroke:'#85857b','stroke-width':.5});
    
    
  });
  labels.forEach(l=>{
    const geo = l[1];
    const t = mk('text', g, {x:frameX(geo[0],geo[1])+765,y:warp(frameY(geo[0],geo[2]))+geo[3]*.35,'text-anchor':'middle','font-size':geo[3],'font-weight':'bold',fill:darkLabelCounties.includes(l[0])?'#000':'#fff'}, l[0]);
    
    
  });
})();
</script>
</body>
</html>
